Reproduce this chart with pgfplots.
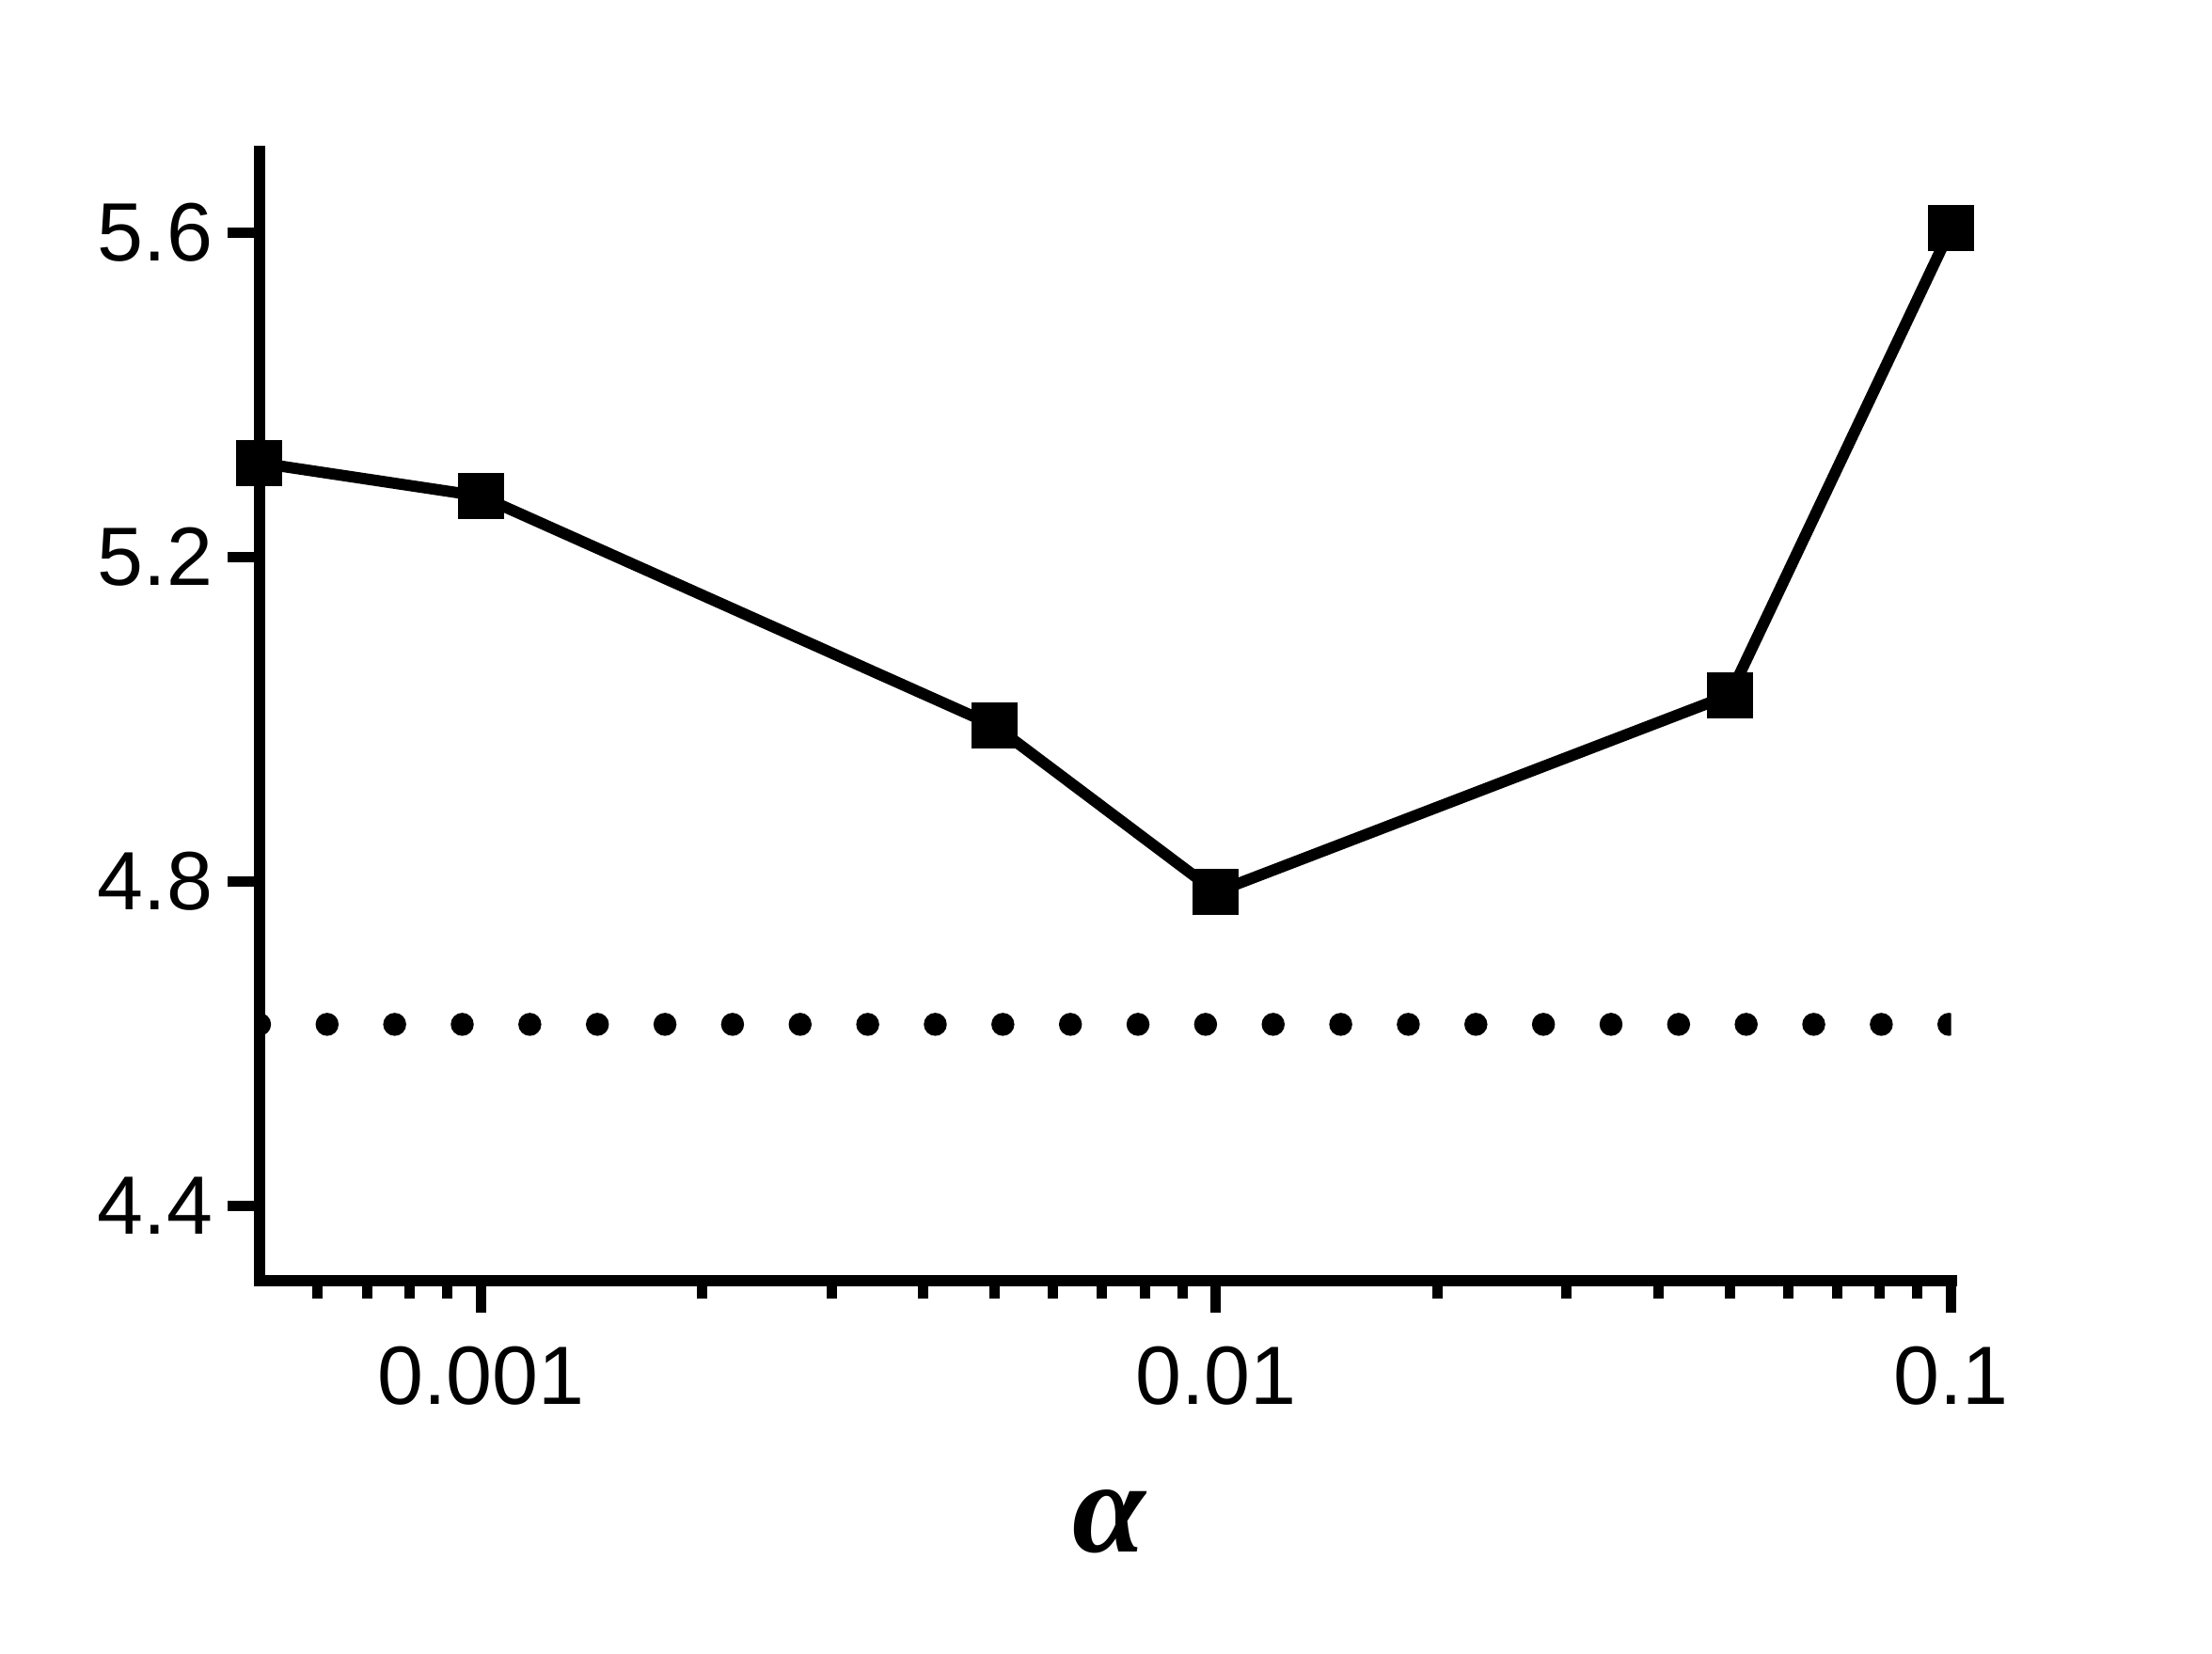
\documentclass[border=0pt]{standalone}
\usepackage{fontspec}
\setmainfont{Liberation Sans}
\newfontfamily\serifit{Liberation Serif}
\usepackage{pgfplots}
\pgfplotsset{compat=1.18}
\begin{document}
\begin{tikzpicture}
\useasboundingbox (-55.2pt,-79.2pt) rectangle (415.2pt,272.4pt);
\begin{semilogxaxis}[
  at={(0pt,0pt)}, anchor=south west,
  scale only axis, width=359.7pt, height=240.2pt,
  xmin=0.0005, xmax=0.1, ymin=4.308, ymax=5.700,
  axis x line*=bottom, axis y line*=left,
  axis line style={line width=2.4pt, line cap=rect, -},
  tick align=outside,
  major tick length=6.8pt, minor tick length=3.7pt,
  tick style={black, line width=2.2pt},
  xtick={0.001,0.01,0.1}, xticklabels={0.001,0.01,0.1},
  minor xtick={0.0006,0.0007,0.0008,0.0009,0.002,0.003,0.004,0.005,0.006,0.007,0.008,0.009,0.02,0.03,0.04,0.05,0.06,0.07,0.08,0.09},
  ytick={4.4,4.8,5.2,5.6}, yticklabels={4.4,4.8,5.2,5.6},
  ticklabel style={font=\fontsize{17.6}{20}\selectfont},
  xticklabel style={anchor=base, yshift=-19.5pt, inner sep=0pt},
  yticklabel style={anchor=east, xshift=-3pt, inner sep=0pt},
  xlabel={\serifit\bfseries\itshape α},
  xlabel style={at={(axis description cs:0.4956,0)}, anchor=base, xshift=2.4pt, yshift=-57.6pt, font=\fontsize{28}{30}\selectfont, inner sep=0pt},
  clip=false,
]
\begin{scope}
\clip (rel axis cs:0,-0.1) rectangle (rel axis cs:1,1);
\addplot[black, line width=4.9pt, dash pattern=on 0pt off 14.37pt, line cap=round] coordinates {(0.0005,4.624) (0.1,4.624)};
\end{scope}
\addplot[black, line width=2.4pt, mark=square*, mark size=3.7pt, mark options={solid, fill=black}] coordinates {
  (0.0005,5.316) (0.001,5.275) (0.005,4.992) (0.01,4.787) (0.05,5.030) (0.1,5.605)
};
\end{semilogxaxis}
\end{tikzpicture}
\end{document}
